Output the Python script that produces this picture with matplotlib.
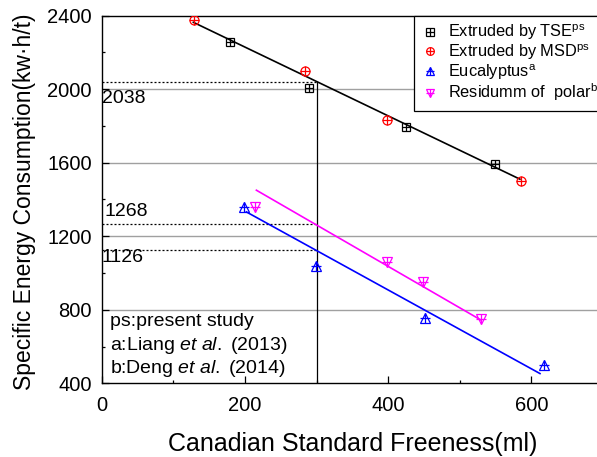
import matplotlib
matplotlib.use("Agg")
import matplotlib.pyplot as plt
from matplotlib.legend_handler import HandlerTuple

plt.rcParams['font.family'] = ['Liberation Sans', 'DejaVu Sans']
plt.rcParams['mathtext.fontset'] = 'custom'
plt.rcParams['mathtext.rm'] = 'Liberation Sans'
plt.rcParams['mathtext.it'] = 'Liberation Sans:italic'

# ---- data ----
tse_x = [179, 290, 425, 549]
tse_y = [2257, 2004, 1795, 1592]
msd_x = [129, 284, 399, 585]
msd_y = [2375, 2098, 1831, 1501]
euc_x = [199, 299, 451, 617]
euc_y = [1356, 1037, 757, 498]
res_x = [214, 399, 449, 529]
res_y = [1356, 1060, 951, 752]

# fitted lines (end points)
fit_ps_x = [128, 584]
fit_ps_y = [2363, 1510]
fit_euc_x = [202, 612]
fit_euc_y = [1332, 453]
fit_res_x = [216, 530]
fit_res_y = [1450, 743]

# reference values at CSF = 300
ref_x = 300
ref_vals = [2038, 1268, 1126]
ref_labels = ['2038', '1268', '1126']
ref_label_pos = [(0, 1951), (4, 1332), (0, 1082)]

notes = ['ps:present study',
         r'a:Liang $\it{et\ al.}$ (2013)',
         r'b:Deng $\it{et\ al.}$ (2014)']
note_y = [734, 607, 480]

W, H = 597, 457
fig = plt.figure(figsize=(W / 100, H / 100), dpi=100)
ax = fig.add_axes([101.7 / W, 1 - 383.3 / H, (603 - 101.7) / W, (383.3 - 15.5) / H])

ax.set_xlim(0, 700)
ax.set_ylim(400, 2400)

# grid lines
for gy in [800, 1200, 1600, 2000]:
    ax.axhline(gy, color='#a0a0a0', lw=1.0, zorder=0)

# reference lines
ax.plot([ref_x, ref_x], [400, ref_vals[0]], color='black', lw=0.9, zorder=1)
for v in ref_vals:
    ax.plot([0, ref_x], [v, v], color='black', lw=0.9, ls=(0, (1.6, 1.6)), zorder=1)
for lab, (lx, ly) in zip(ref_labels, ref_label_pos):
    ax.text(lx, ly, lab, fontsize=14, ha='left', va='center')

# fit lines
ax.plot(fit_ps_x, fit_ps_y, color='black', lw=1.2, zorder=2)
ax.plot(fit_euc_x, fit_euc_y, color='#0000FF', lw=1.2, zorder=2)
ax.plot(fit_res_x, fit_res_y, color='#FF00FF', lw=1.2, zorder=2)

def mk(x, y, marker, color, ms, pms, pmew=0.9):
    a, = ax.plot(x, y, ls='none', marker=marker, ms=ms, mfc='none', mec=color, mew=0.9, zorder=3)
    b, = ax.plot(x, y, ls='none', marker='+', ms=pms, mec=color, mew=pmew, zorder=3)
    return (a, b)

h_tse = mk(tse_x, tse_y, 's', 'black', 6.0, 6.0)
h_msd = mk(msd_x, msd_y, 'o', '#FF0000', 6.5, 6.5)
h_euc = mk(euc_x, euc_y, '^', '#0000FF', 7.5, 7.5)
h_res = mk(res_x, res_y, 'v', '#FF00FF', 7.5, 7.5)

leg = ax.legend([h_tse, h_msd, h_euc, h_res],
                [r'Extruded by TSE$^{\rm ps}$', r'Extruded by MSD$^{\rm ps}$',
                 r'Eucalyptus$^{\rm a}$', r'Residumm of  polar$^{\rm b}$'],
                handler_map={tuple: HandlerTuple(ndivide=1)},
                loc='upper left', bbox_to_anchor=((414 - 101.7) / 501.3, 1.0),
                borderaxespad=0, fontsize=11.8, frameon=True, fancybox=False,
                edgecolor='black', framealpha=1, handlelength=1.0, markerscale=0.85,
                handletextpad=0.6, borderpad=0.45, labelspacing=0.0)
leg.get_frame().set_linewidth(0.9)

for t, yy in zip(notes, note_y):
    ax.text(12, yy, t, fontsize=14, ha='left', va='center')

ax.set_xticks([0, 200, 400, 600])
ax.set_xticks([100, 300, 500, 700], minor=True)
ax.set_yticks([400, 800, 1200, 1600, 2000, 2400])
ax.set_yticks([600, 1000, 1400, 1800, 2200], minor=True)
ax.tick_params(which='both', direction='in', labelsize=14.5, width=0.9)
ax.tick_params(which='major', length=5)
ax.tick_params(which='minor', length=2.5)
ax.tick_params(axis='y', pad=7)
ax.tick_params(axis='x', pad=9)
for s in ax.spines.values():
    s.set_linewidth(1.0)

ax.set_xlabel('Canadian Standard Freeness(ml)', fontsize=18, labelpad=12.5)
ax.set_ylabel('Specific Energy Consumption(kw\u00b7h/t)', fontsize=16.5)
ax.yaxis.set_label_coords(-0.132, 0.493)

fig.savefig('out.png', dpi=100)
